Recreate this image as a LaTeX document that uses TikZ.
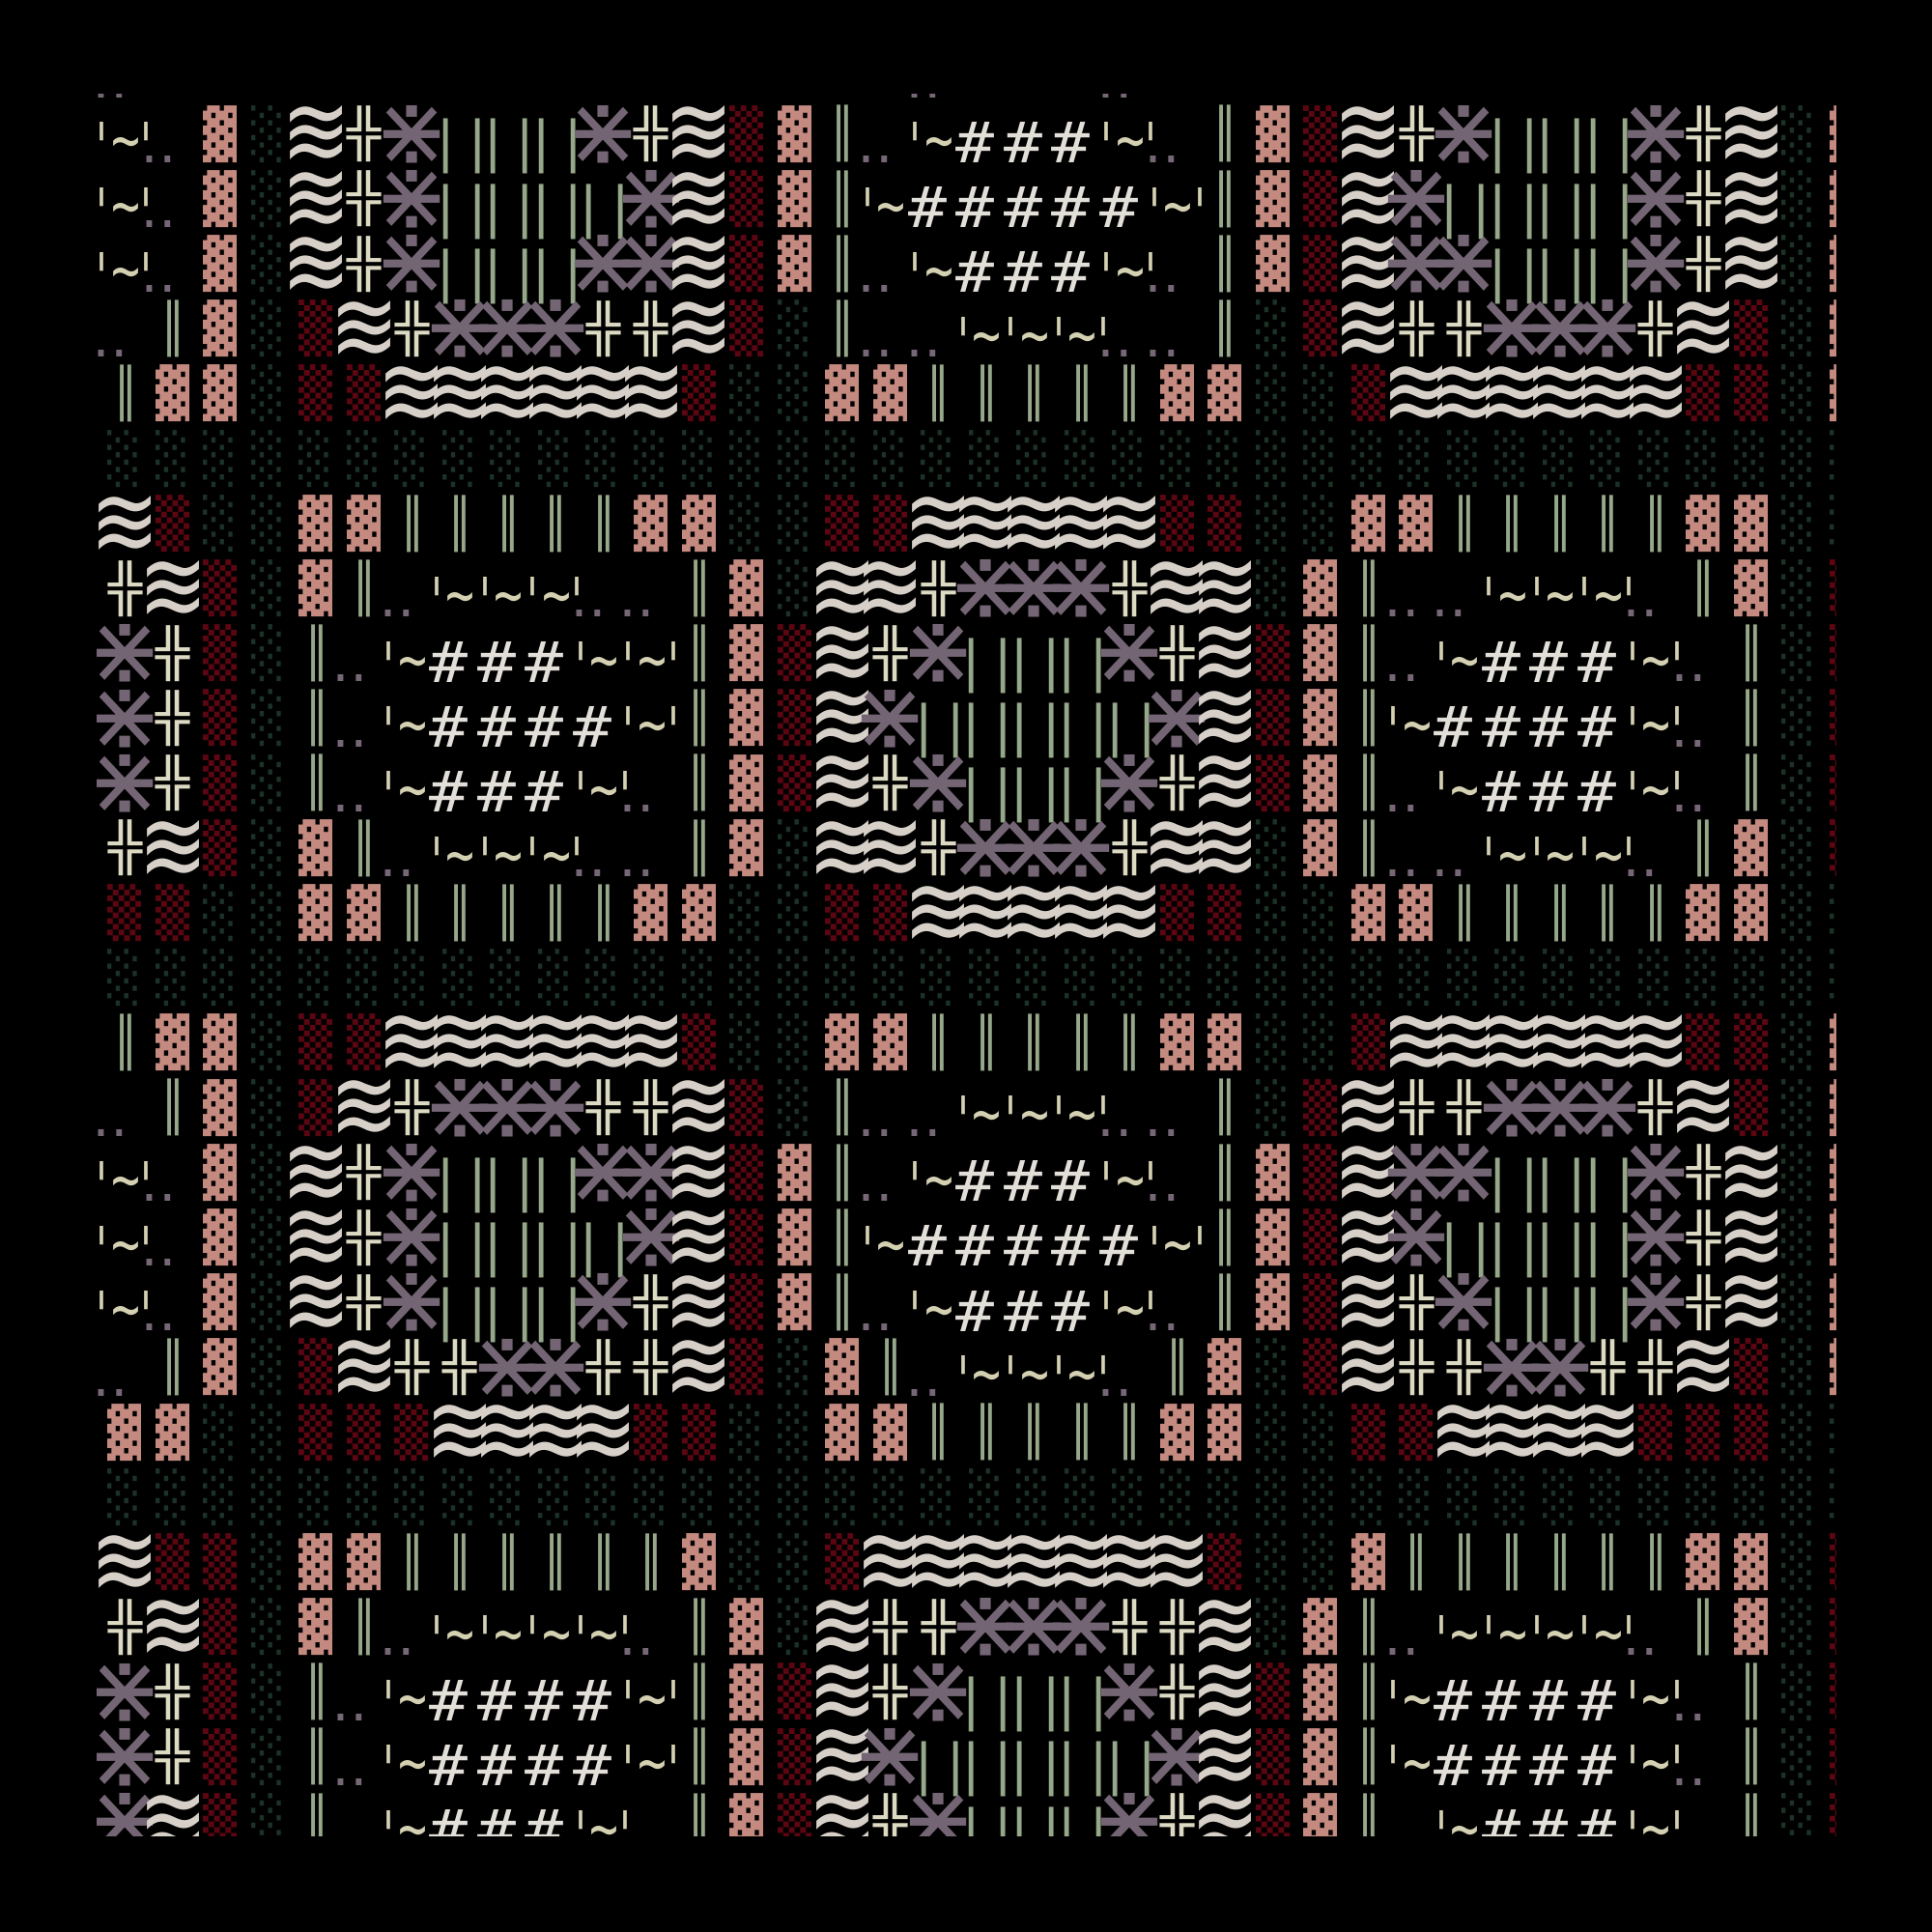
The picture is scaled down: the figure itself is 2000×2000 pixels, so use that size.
\documentclass[tikz,border=0pt]{standalone}
\usepackage{fontspec}
\usepackage{graphicx}
\newfontfamily\monoface[Ligatures=TeXOff]{DejaVu Sans Mono}
\newfontfamily\symface{DejaVu Sans}
\definecolor{pinkc}{RGB}{196,138,128}
\definecolor{redc}{RGB}{92,6,18}
\definecolor{greenc}{RGB}{28,50,38}
\definecolor{wavec}{RGB}{214,208,200}
\definecolor{crossc}{RGB}{220,218,194}
\definecolor{starc}{RGB}{116,101,116}
\definecolor{barc}{RGB}{150,168,138}
\definecolor{quotec}{RGB}{212,208,178}
\definecolor{hashc}{RGB}{226,222,216}
\definecolor{dotc}{RGB}{118,103,118}

\newcommand\shd[2]{\node[text=#1] (s\row-\col) at (11,0) {\resizebox*{0.35cm}{0.59cm}{\monoface #2}};}
\newcommand\tileP{\shd{pinkc}{▓}}
\newcommand\tileR{\shd{redc}{▒}}
\newcommand\tileG{\shd{greenc}{░}}
\newcommand\tileV{\node[text=barc] (v\row-\col) at (11.5,0) {\resizebox*{!}{0.59cm}{\monoface ║}};}
\newcommand\tileX{\node[text=crossc] (x\row-\col) at (11.5,0) {\resizebox*{0.35cm}{0.58cm}{\monoface ╬}};}
\newcommand\tileW{\node[text=wavec] (w\row-\col) at (11.5,2) {\resizebox*{0.72cm}{0.62cm}{\symface ≋}};}
\newcommand\tileS{\node[text=starc] (st\row-\col) at (11.5,1) {\resizebox*{0.78cm}{0.61cm}{\symface ⋇}};}
\newcommand\tileH{\node[text=hashc] (h\row-\col) at (0,8.7) {\resizebox*{0.40cm}{0.42cm}{\monoface\#}};}
\newcommand\tileD{\node[text=dotc] (d\row-\col) at (-4,26) {\resizebox*{!}{0.07cm}{\symface ‥}};}
\newcommand\qt[1]{\node[text=quotec, anchor=north] (q\row-\col) at (#1,-12) {\resizebox*{0.26cm}{0.52cm}{\monoface '}};}
\newcommand\tq{\node[text=quotec, anchor=north] (tq\row-\col) at (12,4) {\resizebox*{0.30cm}{0.25cm}{\monoface\symbol{"7E}}};}
\newcommand\tbar[1]{\node[text=barc] (b\row-\col#1) at (#1,13) {\resizebox*{!}{0.57cm}{\monoface|}};}
\newcommand\tileA{\qt{-12.5}\tq}
\newcommand\tileB{\qt{-16}\tileD}
\newcommand\tileQ{\qt{-15}\tileV}
\newcommand\tileM{\tbar{-3.5}}
\newcommand\tileLM{\tbar{-20}\tbar{-3.5}}
\newcommand\tileLS{\tbar{-20}\tileS}
\newcommand\tileE{}

\begin{document}
\begin{tikzpicture}[x=0.01cm, y=-0.01cm, every node/.style={inner sep=0pt, outer sep=0pt}]
\fill[black] (0,0) rectangle (2000,2000);
\useasboundingbox (0,0) rectangle (2000,2000);
\begin{scope}
\clip (100,98) rectangle (1900,1900);
\foreach \row/\cells in {
-1/{D,E,E,E,E,E,E,E,E,E,E,E,E,E,E,E,E,D,E,E,E,D,E,E,E,E,E,E,E,E,E,E,E,E,E,E,E},
0/{A,B,P,G,W,X,S,M,LM,LM,LS,X,W,R,P,V,D,A,H,H,H,A,B,V,P,R,W,X,S,M,LM,LM,LS,X,W,G,P},
1/{A,B,P,G,W,X,S,M,LM,LM,LM,LS,W,R,P,V,A,H,H,H,H,H,A,Q,P,R,W,S,M,LM,LM,LM,LS,X,W,G,P},
2/{A,B,P,G,W,X,S,M,LM,LM,LS,S,W,R,P,V,D,A,H,H,H,A,B,V,P,R,W,S,S,M,LM,LM,LS,X,W,G,P},
3/{D,V,P,G,R,W,X,S,S,S,X,X,W,R,G,V,D,D,A,A,A,B,D,V,G,R,W,X,X,S,S,S,X,W,R,G,P},
4/{V,P,P,G,R,R,W,W,W,W,W,W,R,G,G,P,P,V,V,V,V,V,P,P,G,G,R,W,W,W,W,W,W,R,R,G,P},
5/{G,G,G,G,G,G,G,G,G,G,G,G,G,G,G,G,G,G,G,G,G,G,G,G,G,G,G,G,G,G,G,G,G,G,G,G,G},
6/{W,R,G,G,P,P,V,V,V,V,V,P,P,G,G,R,R,W,W,W,W,W,R,R,G,G,P,P,V,V,V,V,V,P,P,G,G},
7/{X,W,R,G,P,V,D,A,A,A,B,D,V,P,G,W,W,X,S,S,S,X,W,W,G,P,V,D,D,A,A,A,B,V,P,G,R},
8/{S,X,R,G,V,D,A,H,H,H,A,A,Q,P,R,W,X,S,M,LM,LM,LS,X,W,R,P,V,D,A,H,H,H,A,B,V,G,R},
9/{S,X,R,G,V,D,A,H,H,H,H,A,Q,P,R,W,S,M,LM,LM,LM,LM,LS,W,R,P,V,A,H,H,H,H,A,B,V,G,R},
10/{S,X,R,G,V,D,A,H,H,H,A,B,V,P,R,W,X,S,M,LM,LM,LS,X,W,R,P,V,D,A,H,H,H,A,B,V,G,R},
11/{X,W,R,G,P,V,D,A,A,A,B,D,V,P,G,W,W,X,S,S,S,X,W,W,G,P,V,D,D,A,A,A,B,V,P,G,R},
12/{R,R,G,G,P,P,V,V,V,V,V,P,P,G,G,R,R,W,W,W,W,W,R,R,G,G,P,P,V,V,V,V,V,P,P,G,G},
13/{G,G,G,G,G,G,G,G,G,G,G,G,G,G,G,G,G,G,G,G,G,G,G,G,G,G,G,G,G,G,G,G,G,G,G,G,G},
14/{V,P,P,G,R,R,W,W,W,W,W,W,R,G,G,P,P,V,V,V,V,V,P,P,G,G,R,W,W,W,W,W,W,R,R,G,P},
15/{D,V,P,G,R,W,X,S,S,S,X,X,W,R,G,V,D,D,A,A,A,B,D,V,G,R,W,X,X,S,S,S,X,W,R,G,P},
16/{A,B,P,G,W,X,S,M,LM,LM,LS,S,W,R,P,V,D,A,H,H,H,A,B,V,P,R,W,S,S,M,LM,LM,LS,X,W,G,P},
17/{A,B,P,G,W,X,S,M,LM,LM,LM,LS,W,R,P,V,A,H,H,H,H,H,A,Q,P,R,W,S,M,LM,LM,LM,LS,X,W,G,P},
18/{A,B,P,G,W,X,S,M,LM,LM,LS,X,W,R,P,V,D,A,H,H,H,A,B,V,P,R,W,X,S,M,LM,LM,LS,X,W,G,P},
19/{D,V,P,G,R,W,X,X,S,S,X,X,W,R,G,P,V,D,A,A,A,B,V,P,G,R,W,X,X,S,S,X,X,W,R,G,P},
20/{P,P,G,G,R,R,R,W,W,W,W,R,R,G,G,P,P,V,V,V,V,V,P,P,G,G,R,R,W,W,W,W,R,R,R,G,G},
21/{G,G,G,G,G,G,G,G,G,G,G,G,G,G,G,G,G,G,G,G,G,G,G,G,G,G,G,G,G,G,G,G,G,G,G,G,G},
22/{W,R,R,G,P,P,V,V,V,V,V,V,P,G,G,R,W,W,W,W,W,W,W,R,G,G,P,V,V,V,V,V,V,P,P,G,R},
23/{X,W,R,G,P,V,D,A,A,A,A,B,V,P,G,W,X,X,S,S,S,X,X,W,G,P,V,D,A,A,A,A,B,V,P,G,R},
24/{S,X,R,G,V,D,A,H,H,H,H,A,Q,P,R,W,X,S,M,LM,LM,LS,X,W,R,P,V,A,H,H,H,H,A,B,V,G,R},
25/{S,X,R,G,V,D,A,H,H,H,H,A,Q,P,R,W,S,M,LM,LM,LM,LM,LS,W,R,P,V,A,H,H,H,H,A,B,V,G,R},
26/{S,W,R,G,V,D,A,H,H,H,A,B,V,P,R,W,X,S,M,LM,LM,LS,X,W,R,P,V,D,A,H,H,H,A,B,V,G,R}}{
  \foreach \tok [count=\col from 0] in \cells {
    \begin{scope}[shift={(118.5+49.5*\col, 138.8+67.2*(\row))}]
      \csname tile\tok\endcsname
    \end{scope}
  }
}
\end{scope}
\end{tikzpicture}
\end{document}
